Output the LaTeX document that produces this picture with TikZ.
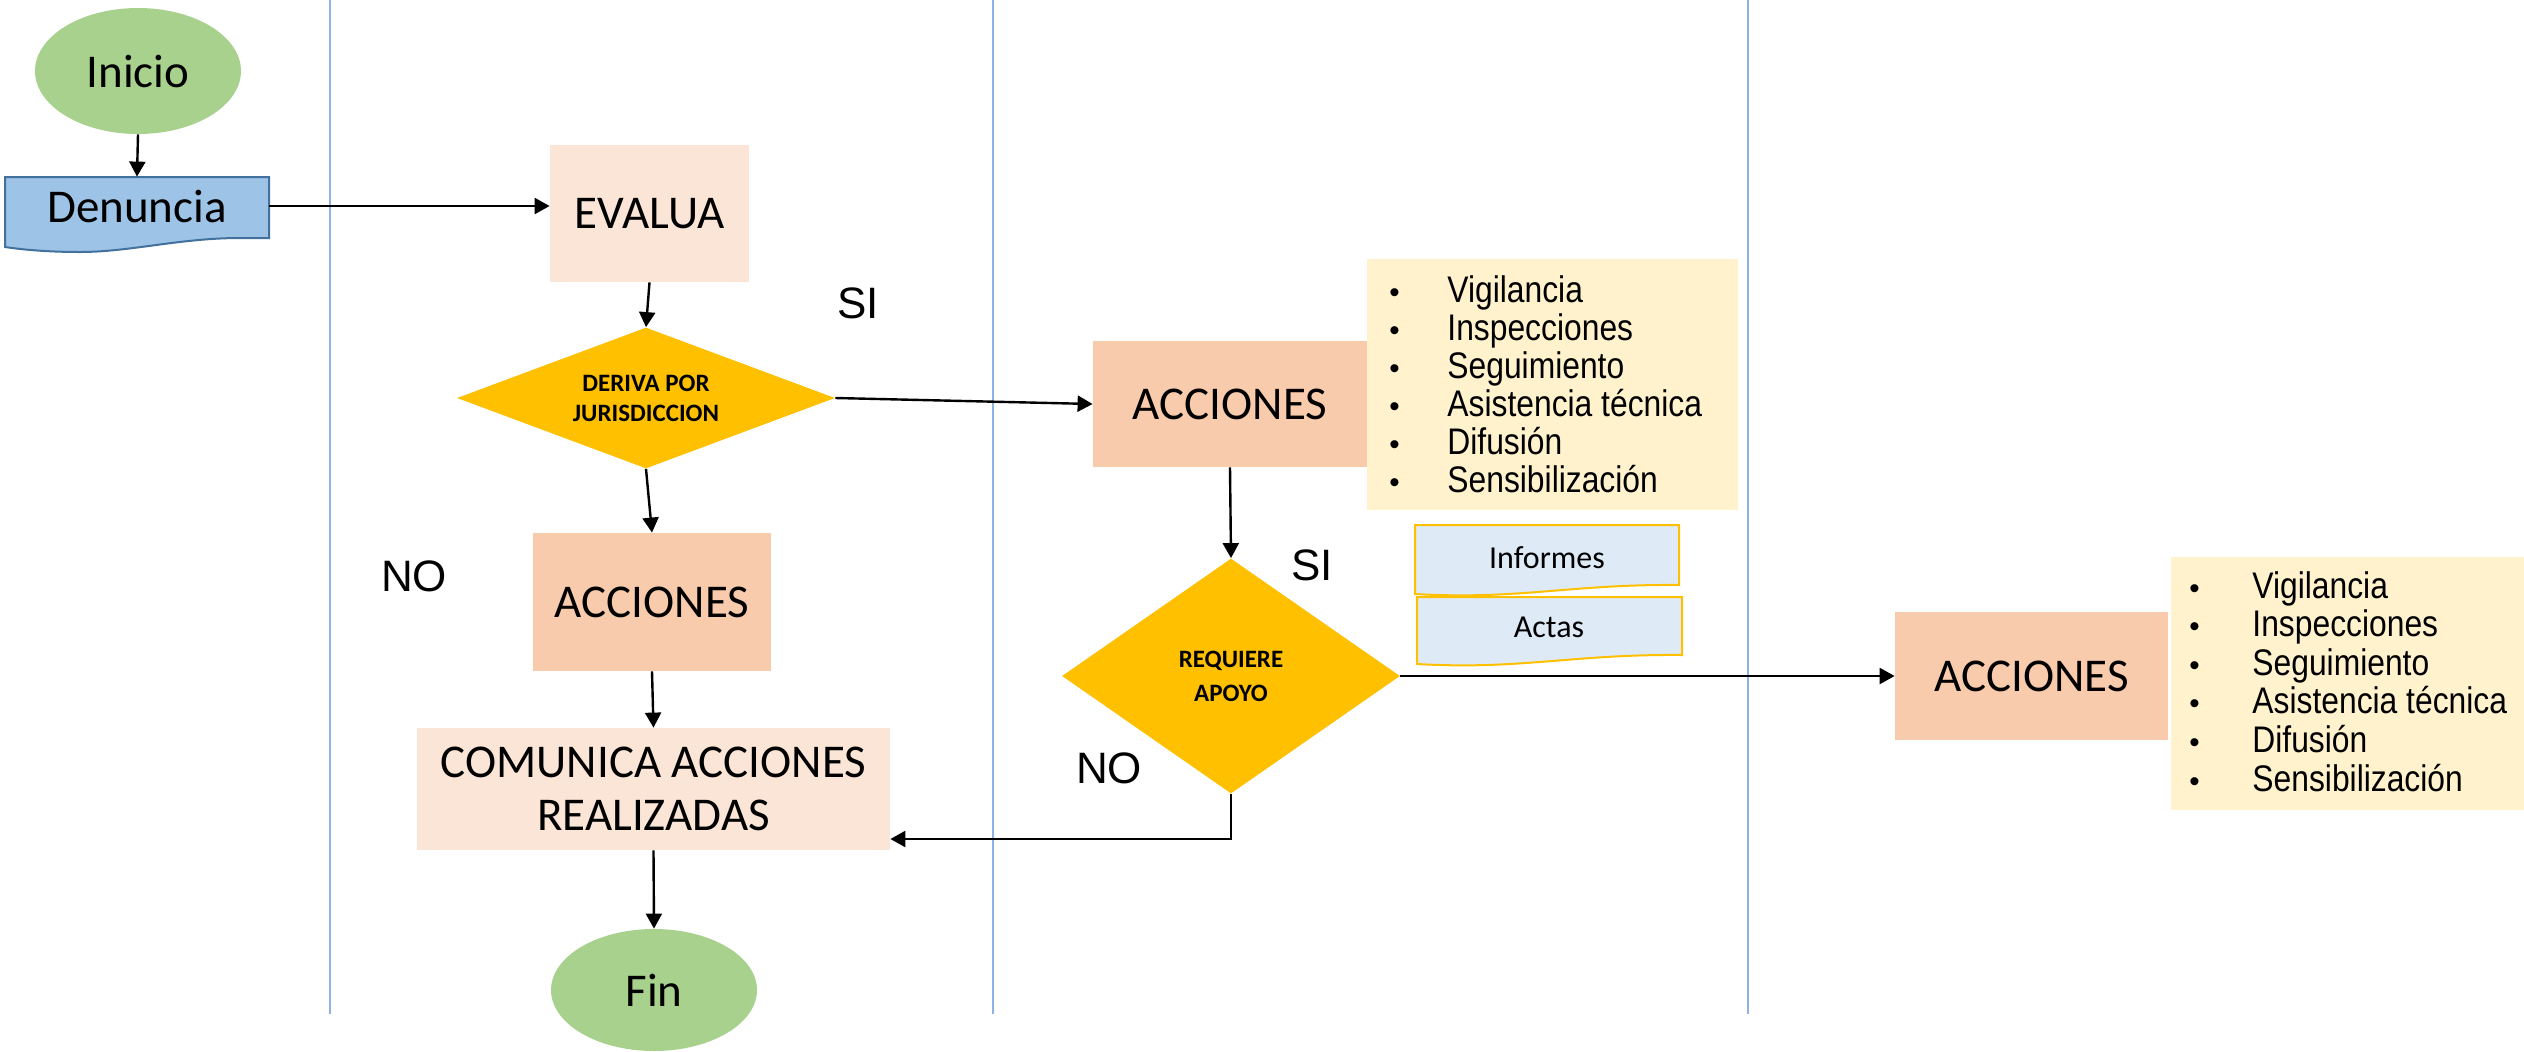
\documentclass[tikz,border=0pt]{standalone}
\usepackage{fontspec}
\usepackage{graphicx}
\setmainfont{Carlito}
\newfontfamily\arialf{Liberation Sans}
\usetikzlibrary{shapes.geometric,arrows.meta,calc}
\definecolor{termgreen}{HTML}{A9D18E}
\definecolor{docblue}{HTML}{9DC3E6}
\definecolor{docedge}{HTML}{41719C}
\definecolor{evalfill}{HTML}{FBE5D6}
\definecolor{accfill}{HTML}{F8CBAD}
\definecolor{decfill}{HTML}{FFC000}
\definecolor{listfill}{HTML}{FFF2CC}
\definecolor{repfill}{HTML}{DEEBF7}
\definecolor{lanecol}{HTML}{8DB3E2}
\newcommand\myfs[2]{\fontsize{#1}{#2}\selectfont}
\begin{document}
\begin{tikzpicture}[x=0.5pt,y=-0.5pt,
 arr/.style={line width=1.2pt,-{Triangle[length=7.5pt,width=8pt]}},
 lane/.style={draw=lanecol,line width=0.8pt},
 term/.style={ellipse,fill=termgreen,inner sep=0pt,minimum width=103pt,minimum height=63pt,font=\myfs{23.5}{28}},
 proc/.style={rectangle,inner sep=0pt,font=\myfs{23.5}{26.5},align=center},
 dec/.style={diamond,fill=decfill,inner sep=0pt,font=\bfseries\myfs{12.5}{15},align=center},
 doc/.style={fill=docblue,draw=docedge,line width=1pt},
 rep/.style={fill=repfill,draw=decfill,line width=1pt},
 lbl/.style={font=\arialf\myfs{22}{26},inner sep=0pt},
 listbox/.style={fill=listfill,inner sep=0pt},
 item/.style={anchor=base west,inner sep=0pt,font=\arialf\myfs{18.5}{20}},
]
\fill[white] (0,0) rectangle (2524,1051);
\useasboundingbox (0,0) rectangle (2524,1051);

% swimlane separators
\draw[lane] (330,0) -- (330,1014);
\draw[lane] (993,0) -- (993,1014);
\draw[lane] (1748,0) -- (1748,1014);

% lane 1
\node[term] (inicio) at (138,71) {Inicio};
\draw[doc] (5,177) -- (269,177) -- (269,238) -- (240,238)
  .. controls (180,238) and (130,252) .. (80,252)
  .. controls (50,252) and (25,250) .. (5,247) -- cycle;
\node[proc,minimum width=132pt,minimum height=29pt] (denuncia) at (137,206) {Denuncia};

% lane 2
\node[proc,fill=evalfill,minimum width=99.5pt,minimum height=68.5pt] (evalua) at (649.5,213.5) {EVALUA};
\node[dec,shape aspect=2.68,minimum width=189pt,minimum height=70.5pt] (deriva) at (646,398) {DERIVA POR\\JURISDICCION};
\node[proc,fill=accfill,minimum width=119pt,minimum height=69pt] (acc2) at (652,602) {ACCIONES};
\node[proc,fill=evalfill,minimum width=236.5pt,minimum height=61pt] (comunica) at (653.5,789) {COMUNICA ACCIONES\\REALIZADAS};
\node[term,minimum height=61pt] (fin) at (654,990) {Fin};
\node[lbl] (si1) at (858,303) {SI};
\node[lbl] (no1) at (414,576) {NO};

% lane 3
\node[proc,fill=accfill,minimum width=137pt,minimum height=63pt] (acc1) at (1230,404) {ACCIONES};
\node[listbox,minimum width=185.5pt,minimum height=125.5pt] (list1) at (1552.5,384.5) {};
\node[dec,shape aspect=1.44,minimum width=169pt,minimum height=117.5pt,font=\bfseries\myfs{12.5}{17}] (apoyo) at (1231,676) {REQUIERE\\APOYO};
\node[lbl] (si2) at (1312,565) {SI};
\node[lbl] (no2) at (1109,768) {NO};
\draw[rep] (1415,525) -- (1679,525) -- (1679,585)
  .. controls (1570,584) and (1520,600) .. (1415,594) -- cycle;
\node[inner sep=0pt,font=\myfs{16}{19}] (informes) at (1547,558) {Informes};
\draw[rep] (1417,597) -- (1682,597) -- (1682,655)
  .. controls (1572,654) and (1522,670) .. (1417,664) -- cycle;
\node[inner sep=0pt,font=\myfs{16}{19}] (actas) at (1549,627) {Actas};

% lane 4
\node[proc,fill=accfill,minimum width=136.5pt,minimum height=64pt] (acc3) at (2031.5,676) {ACCIONES};
\node[listbox,minimum width=176.5pt,minimum height=126.5pt] (list2) at (2347.5,683.5) {};

\foreach \t [count=\i] in {Vigilancia,Inspecciones,Seguimiento,Asistencia técnica,Difusión,Sensibilización}{
  \node[item] (la\i) at (1389,{264+38*\i}) {\scalebox{0.8}{\textbullet}};
  \node[item] (lb\i) at (1447,{264+38*\i}) {\scalebox{0.86}[1]{\t}};
  \node[item] (lc\i) at (2189,{559.4+38.6*\i}) {\scalebox{0.8}{\textbullet}};
  \node[item] (ld\i) at (2252,{559.4+38.6*\i}) {\scalebox{0.86}[1]{\t}};
}

% connectors
\draw[arr] (inicio.south) -- (denuncia.north);
\draw[arr] (denuncia.east) -- (evalua.west |- denuncia.east);
\draw[arr] (evalua.south) -- (deriva.north);
\draw[arr] (deriva.south) -- (acc2.north);
\draw[arr] (acc2.south) -- (comunica.north);
\draw[arr] (comunica.south) -- (fin.north);
\draw[arr] (deriva.east) -- (acc1.west);
\draw[arr] (acc1.south) -- (apoyo.north);
\draw[arr] (apoyo.east) -- (acc3.west);
\draw[arr] (apoyo.south) |- ([yshift=-25pt]comunica.east);
\end{tikzpicture}
\end{document}
